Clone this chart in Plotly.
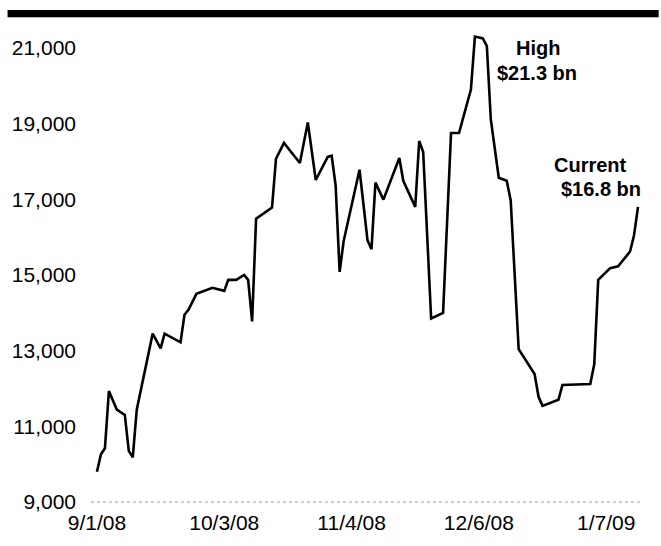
import plotly.graph_objects as go

# Daily series, in $ millions
dates = [
    "2008-09-01", "2008-09-02", "2008-09-03", "2008-09-04", "2008-09-06",
    "2008-09-08", "2008-09-09", "2008-09-10", "2008-09-11", "2008-09-15",
    "2008-09-17", "2008-09-18", "2008-09-22", "2008-09-23", "2008-09-24",
    "2008-09-26", "2008-09-30", "2008-10-03", "2008-10-04", "2008-10-06",
    "2008-10-08", "2008-10-09", "2008-10-10", "2008-10-11", "2008-10-15",
    "2008-10-16", "2008-10-18", "2008-10-22", "2008-10-24", "2008-10-26",
    "2008-10-29", "2008-10-30", "2008-10-31", "2008-11-01", "2008-11-02",
    "2008-11-06", "2008-11-08", "2008-11-09", "2008-11-10", "2008-11-12",
    "2008-11-16", "2008-11-17", "2008-11-20", "2008-11-21", "2008-11-22",
    "2008-11-24", "2008-11-27", "2008-11-29", "2008-12-01", "2008-12-04",
    "2008-12-05", "2008-12-07", "2008-12-08", "2008-12-09", "2008-12-11",
    "2008-12-13", "2008-12-14", "2008-12-16", "2008-12-20", "2008-12-21",
    "2008-12-22", "2008-12-26", "2008-12-27", "2009-01-03", "2009-01-04",
    "2009-01-05", "2009-01-08", "2009-01-10", "2009-01-13", "2009-01-14",
    "2009-01-15",
]
values = [
    9800, 10260, 10420, 11930, 11440,
    11300, 10350, 10180, 11440, 13450,
    13060, 13450, 13220, 13950, 14080,
    14500, 14660, 14580, 14870, 14870,
    15000, 14870, 13770, 16490, 16780,
    18070, 18490, 17960, 19030, 17510,
    18120, 18150, 17360, 15080, 15890,
    17780, 15920, 15680, 17440, 16990,
    18090, 17490, 16800, 18540, 18250,
    13850, 14000, 18750, 18750, 19900,
    21300, 21250, 21050, 19110, 17570,
    17490, 16970, 13040, 12380, 11780,
    11540, 11700, 12090, 12120, 12640,
    14870, 15180, 15230, 15620, 16050,
    16800,
]

x_tick_dates = ["2008-09-01", "2008-10-03", "2008-11-04", "2008-12-06", "2009-01-07"]
x_tick_labels = ["9/1/08", "10/3/08", "11/4/08", "12/6/08", "1/7/09"]
y_tick_vals = [9000, 11000, 13000, 15000, 17000, 19000, 21000]
y_tick_labels = ["9,000", "11,000", "13,000", "15,000", "17,000", "19,000", "21,000"]

high_label = "High<br>$21.3 bn"
current_label = "Current<br> $16.8 bn"

FONT = "Arial, Liberation Sans, sans-serif"

fig = go.Figure()
fig.add_trace(go.Scatter(
    x=dates, y=values, mode="lines",
    line=dict(color="#000000", width=2.6),
    hoverinfo="skip", showlegend=False,
))

# thick rule across the top
fig.add_shape(type="rect", xref="paper", yref="paper",
              x0=-0.152, x1=1.034, y0=1.025, y1=1.040,
              fillcolor="#000000", line=dict(width=0), layer="above")
# thin grey baseline at the bottom of the value axis
fig.add_shape(type="line", xref="paper", yref="paper",
              x0=0, x1=1, y0=0, y1=0,
              line=dict(color="#9a9a9a", width=1, dash="dot"))

high_lines = high_label.split("<br>")
cur_lines = current_label.split("<br>")
for txt, px, py in [(high_lines[0], 0.815, 0.960), (high_lines[1], 0.813, 0.908),
                    (cur_lines[0], 0.909, 0.713), (cur_lines[1], 0.929, 0.662)]:
    fig.add_annotation(text="<b>" + txt.strip() + "</b>", xref="paper", yref="paper",
                       x=px, y=py, xanchor="center", yanchor="middle",
                       showarrow=False, font=dict(family=FONT, size=20, color="#000000"))

fig.update_layout(
    width=661, height=546,
    margin=dict(l=89, r=21, t=29, b=40),
    paper_bgcolor="#ffffff", plot_bgcolor="#ffffff",
    font=dict(family=FONT, size=21, color="#000000"),
    showlegend=False,
)
fig.update_xaxes(
    type="date", range=["2008-08-30 12:00", "2009-01-15 12:00"],
    tickvals=x_tick_dates, ticktext=x_tick_labels,
    showgrid=False, zeroline=False, showline=False, ticks="",
    ticklabelstandoff=6, tickfont=dict(family=FONT, size=21, color="#000000"),
)
fig.update_yaxes(
    range=[9000, 21500],
    tickvals=y_tick_vals, ticktext=y_tick_labels,
    showgrid=False, zeroline=False, showline=False, ticks="",
    ticklabelstandoff=14, tickfont=dict(family=FONT, size=21, color="#000000"),
)

fig.write_html("out.html")
